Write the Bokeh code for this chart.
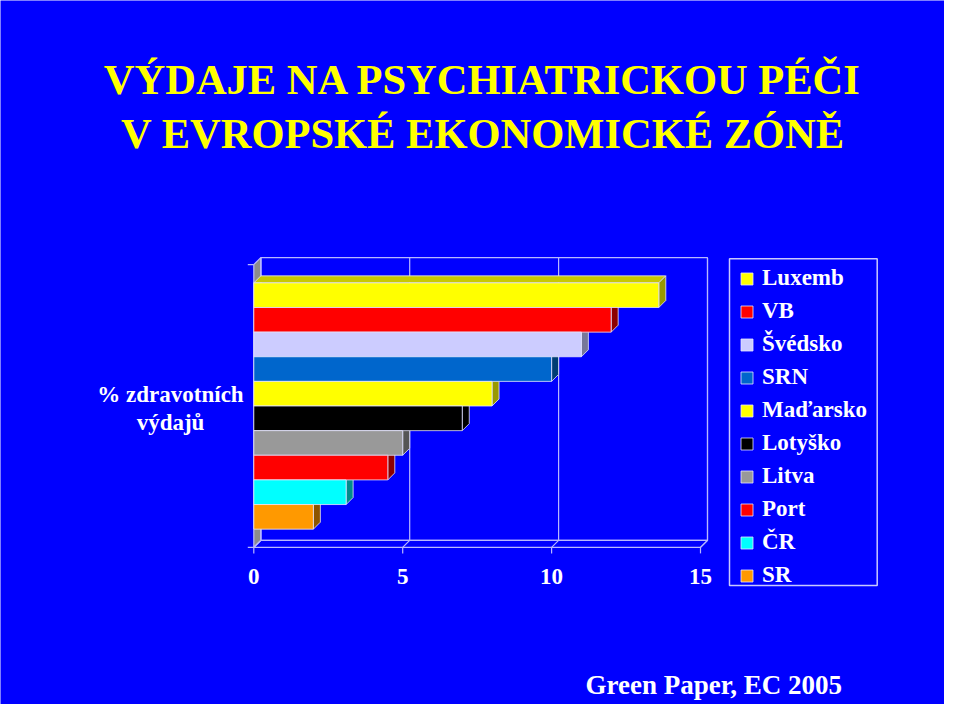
import numpy as np
from bokeh.plotting import figure
from bokeh.models import Range1d, Label, Legend, LegendItem, ColumnDataSource
from bokeh.core.properties import value
from bokeh.embed import file_html
from bokeh.resources import INLINE

# data (legend order, top bar first)
countries = ["Luxemb", "VB", "Švédsko", "SRN", "Maďarsko", "Lotyško", "Litva", "Port", "ČR", "SR"]
spending = [13.6, 12.0, 11.0, 10.0, 8.0, 7.0, 5.0, 4.5, 3.1, 2.0]
front_colors = ["#FFFF00", "#FF0000", "#CCCCFF", "#0066CC", "#FFFF00",
                "#000000", "#999999", "#FF0000", "#00FFFF", "#FF9900"]
side_colors = ["#999900", "#8C0000", "#77779A", "#003D73", "#999900",
               "#000000", "#555555", "#8C0000", "#008C8C", "#8C5500"]
top_colors = ["#C8C800", "#C00000", "#A6A6CC", "#0052A3", "#C8C800",
              "#000000", "#777777", "#C00000", "#00BFBF", "#C07300"]
x_ticks = [0, 5, 10, 15]
x_max = 15

title_1 = "VÝDAJE NA PSYCHIATRICKOU PÉČI"
title_2 = "V EVROPSKÉ EKONOMICKÉ ZÓNĚ"
y_label = ["% zdravotních", "výdajů"]
source_note = "Green Paper, EC 2005"

BLUE = "#0000FF"
GRID = "#B8B8FF"
EDGE = "#E6E6FF"
FONT = "Liberation Serif"

W, H = 944, 704
ORIGIN_X = 253.3   # px of value 0 (front plane)
PX_X = 29.78
ROW0_Y = 516.35    # px of bottom row centre
PX_Y = 24.63


def X(px):
    return (px - ORIGIN_X) / PX_X


def Y(py):
    return (ROW0_Y - py) / PX_Y


DX = 7 / PX_X
DY = 7 / PX_Y
n = len(countries)
rows = [n - 1 - i for i in range(n)]
y_floor = -0.5 - 0.74
y_top = n - 0.5 + 0.74

p = figure(width=W, height=H, x_range=Range1d(X(0), X(W)), y_range=Range1d(Y(H), Y(0)),
           toolbar_location=None, tools="", output_backend="svg",
           x_axis_type=None, y_axis_type=None, min_border=0)
p.background_fill_color = BLUE
p.border_fill_color = BLUE
p.outline_line_color = None
p.xgrid.grid_line_color = None
p.ygrid.grid_line_color = None

# walls and floor
p.quad(left=DX, right=x_max + DX, bottom=y_floor + DY, top=y_top + DY,
       fill_color=BLUE, line_color=GRID, line_width=1.2)
p.patch([0, x_max, x_max + DX, DX], [y_floor, y_floor, y_floor + DY, y_floor + DY],
        fill_color=BLUE, line_color=GRID, line_width=1.2)
p.patch([0, DX, DX, 0], [y_floor, y_floor + DY, y_top + DY, y_top],
        fill_color="#8C8C8C", line_color=GRID, line_width=1.2)
p.segment(x0=[t + DX for t in x_ticks], y0=y_floor + DY, x1=[t + DX for t in x_ticks], y1=y_top + DY,
          line_color=GRID, line_width=1.2)
p.segment(x0=x_ticks, y0=y_floor, x1=[t + DX for t in x_ticks], y1=y_floor + DY,
          line_color=GRID, line_width=1.2)
p.segment(x0=x_ticks, y0=y_floor, x1=x_ticks, y1=y_floor - 6 / PX_Y, line_color=GRID, line_width=1.2)
p.segment(x0=-6 / PX_X, y0=[y_floor, y_top], x1=0, y1=[y_floor, y_top], line_color=GRID, line_width=1.2)

# 3d bars: top faces, side faces, then fronts
top_xs = [[0, v, v + DX, DX] for v in spending]
top_ys = [[j + 0.5, j + 0.5, j + 0.5 + DY, j + 0.5 + DY] for j in rows]
p.patches(top_xs, top_ys, fill_color=top_colors, line_color=EDGE, line_width=0.8)
side_xs = [[v, v + DX, v + DX, v] for v in spending]
side_ys = [[j - 0.5, j - 0.5 + DY, j + 0.5 + DY, j + 0.5] for j in rows]
p.patches(side_xs, side_ys, fill_color=side_colors, line_color=EDGE, line_width=0.8)

src = ColumnDataSource(dict(y=rows, right=spending, country=countries, color=front_colors))
bars = p.hbar(y="y", left=0, right="right", height=1, source=src,
              fill_color="color", line_color=EDGE, line_width=0.8)

# tick labels
p.text(x=x_ticks, y=Y(575.7), text=[str(t) for t in x_ticks], text_align="center",
       text_baseline="middle", text_font=value(FONT), text_font_style="bold",
       text_font_size="23px", text_color="white")

# titles and notes
for txt, py in [(title_1, 79.2), (title_2, 132.5)]:
    p.add_layout(Label(x=X(482.5), y=Y(py), text=txt, text_align="center",
                       text_baseline="middle", text_font=FONT, text_font_style="bold",
                       text_font_size="42.5px", text_color="#FFFF00"))
for txt, py in zip(y_label, [394.1, 422.4]):
    p.add_layout(Label(x=X(170), y=Y(py), text=txt, text_align="center",
                       text_baseline="middle", text_font=FONT, text_font_style="bold",
                       text_font_size="23px", text_color="white"))
p.add_layout(Label(x=X(585), y=Y(684.4), text=source_note, text_align="left",
                   text_baseline="middle", text_font=FONT, text_font_style="bold",
                   text_font_size="27px", text_color="white"))

# legend box
p.quad(left=X(729), right=X(876.7), top=Y(258.3), bottom=Y(585), fill_color=None,
       line_color="#C8C8FF", line_width=1.5)
items = [LegendItem(label=c, renderers=[bars], index=i) for i, c in enumerate(countries)]
legend = Legend(items=items, location=(739, 115.7), padding=0, spacing=7, label_height=26,
                glyph_width=15, glyph_height=15, label_standoff=8,
                label_text_font=FONT, label_text_font_style="bold", label_text_font_size="23px",
                label_text_color="white", background_fill_alpha=0, border_line_alpha=0)
p.add_layout(legend)

open("out.html", "w").write(file_html(p, INLINE))
